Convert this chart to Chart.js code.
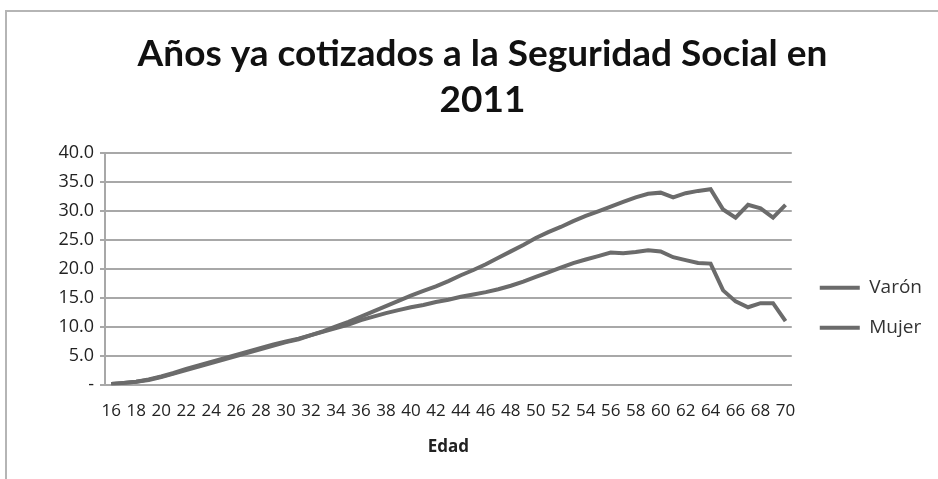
<!DOCTYPE html>
<html>
<head>
<meta charset="utf-8">
<script src="https://cdn.jsdelivr.net/npm/chart.js@4"></script>
<style>
  html, body { margin: 0; padding: 0; background: #fff; }
  #frame {
    position: absolute; left: 5px; top: 10px; width: 940px; height: 480px;
    border-left: 2px solid #b5b5b5; border-top: 2px solid #b5b5b5;
  }
  #chart { position: absolute; left: 0; top: 0; }
</style>
</head>
<body>
<div id="frame"></div>
<canvas id="chart" width="938" height="479"></canvas>
<script>
// Edad (16..70)
var ages = [];
for (var a = 16; a <= 70; a++) ages.push(String(a));

// Años cotizados medios por edad
var varon = [
  0.2, 0.4, 0.6, 0.9, 1.4, 2.0, 2.6, 3.2, 3.8, 4.4,
  5.0, 5.6, 6.2, 6.8, 7.4, 7.9, 8.6, 9.3, 10.1, 10.9,
  11.8, 12.7, 13.6, 14.5, 15.4, 16.2, 17.0, 17.9, 18.9, 19.8,
  20.8, 21.9, 23.0, 24.1, 25.3, 26.3, 27.2, 28.2, 29.1, 29.9,
  30.7, 31.5, 32.3, 32.9, 33.1, 32.3, 33.0, 33.4, 33.7, 30.2,
  28.8, 31.0, 30.4, 28.8, 31.0
];
var mujer = [
  0.2, 0.4, 0.6, 1.0, 1.5, 2.1, 2.8, 3.4, 4.0, 4.6,
  5.2, 5.8, 6.4, 7.0, 7.5, 8.0, 8.6, 9.2, 9.8, 10.4,
  11.2, 11.8, 12.4, 12.9, 13.4, 13.8, 14.3, 14.7, 15.2, 15.6,
  16.0, 16.5, 17.1, 17.8, 18.6, 19.4, 20.2, 21.0, 21.6, 22.2,
  22.8, 22.7, 22.9, 23.2, 23.0, 22.0, 21.5, 21.0, 20.9, 16.3,
  14.4, 13.4, 14.1, 14.1, 11.0
];

var yTicks = [0, 5, 10, 15, 20, 25, 30, 35, 40];

var lineGray = '#6b6b6b';
var gridGray = '#a8a8a8';

// nudge title and legend boxes after the layout pass
var boxShift = {
  id: 'boxShift',
  afterLayout: function(chart) {
    var t = chart.titleBlock;
    t.left += 20; t.right += 20;
    var lg = chart.legend;
    lg.top += 39; lg.bottom += 39;
    lg.left += 7; lg.right += 7;
  }
};

new Chart(document.getElementById('chart'), {
  type: 'line',
  data: {
    labels: ages,
    datasets: [
      { label: 'Varón', data: varon, borderColor: lineGray, backgroundColor: lineGray,
        borderWidth: 4, pointRadius: 0, tension: 0 },
      { label: 'Mujer', data: mujer, borderColor: lineGray, backgroundColor: lineGray,
        borderWidth: 4, pointRadius: 0, tension: 0 }
    ]
  },
  options: {
    responsive: false,
    animation: false,
    layout: { padding: { left: 0, right: 13, top: 0, bottom: 22 } },
    plugins: {
      title: {
        display: true,
        text: ['Años ya cotizados a la Seguridad Social en', '2011'],
        color: '#111',
        font: { family: "Lato, sans-serif", size: 37, weight: 'bold', lineHeight: 1.25 },
        padding: { top: 31, bottom: 29 }
      },
      legend: {
        display: true,
        position: 'right',
        fullSize: false,
        labels: {
          usePointStyle: true,
          pointStyle: 'line',
          pointStyleWidth: 40,
          color: '#333',
          padding: 21,
          font: { family: "'Open Sans', sans-serif", size: 19 }
        }
      },
      tooltip: { enabled: false }
    },
    scales: {
      x: {
        offset: true,
        grid: { display: false },
        border: { color: gridGray, width: 2 },
        ticks: {
          autoSkip: false,
          maxRotation: 0,
          minRotation: 0,
          padding: 8,
          color: '#222',
          font: { family: "'Open Sans', sans-serif", size: 17 },
          callback: function(v, i) { return i % 2 === 0 ? ages[i] : ''; }
        },
        title: {
          display: true,
          text: 'Edad',
          color: '#222',
          font: { family: "'Open Sans', sans-serif", size: 17, weight: 'bold' },
          padding: { top: 7, bottom: 0 }
        }
      },
      y: {
        min: 0,
        max: 40,
        afterFit: function(scale) { scale.width = 105; },
        afterBuildTicks: function(scale) {
          scale.ticks = yTicks.map(function(v) { return { value: v }; });
        },
        grid: { color: gridGray, lineWidth: 2, tickLength: 5 },
        border: { color: gridGray, width: 2 },
        ticks: {
          padding: 6,
          color: '#222',
          font: { family: "'Open Sans', sans-serif", size: 18 },
          callback: function(v) { return v === 0 ? '-' : v.toFixed(1); }
        }
      }
    }
  },
  plugins: [boxShift]
});
</script>
</body>
</html>
